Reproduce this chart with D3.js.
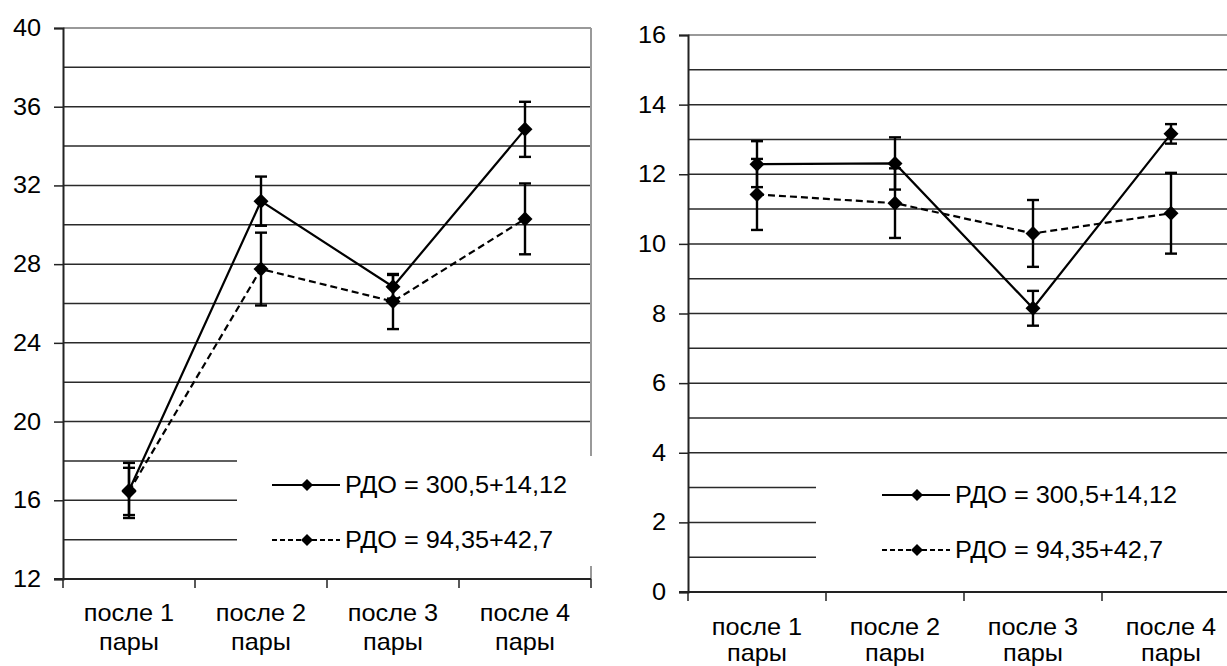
<!DOCTYPE html>
<html lang="ru">
<head>
<meta charset="utf-8">
<title>РДО после пар</title>
<script src="https://cdnjs.cloudflare.com/ajax/libs/d3/7.8.5/d3.min.js"></script>
<style>
  html, body { margin: 0; padding: 0; background: #fff; }
  svg { display: block; font-family: "Liberation Sans", Arial, sans-serif; }
</style>
</head>
<body>
<svg id="chart" width="1227" height="666"></svg>
<script>
// categories (two-line labels)
const categories = ["после 1", "после 2", "после 3", "после 4"];
const categorySub = "пары";
const seriesNames = ["РДО = 300,5+14,12", "РДО = 94,35+42,7"];

// left chart
const leftSolid = [16.5, 31.2, 26.85, 34.85];
const leftSolidErr = [1.4, 1.25, 0.6, 1.4];
const leftDashed = [16.45, 27.75, 26.1, 30.3];
const leftDashedErr = [1.2, 1.85, 1.4, 1.8];
const leftTicks = [12, 16, 20, 24, 28, 32, 36, 40];
const leftGrid = [14, 16, 18, 20, 22, 24, 26, 28, 30, 32, 34, 36, 38];

// right chart
const rightSolid = [12.29, 12.31, 8.15, 13.16];
const rightSolidErr = [0.66, 0.75, 0.5, 0.28];
const rightDashed = [11.42, 11.17, 10.3, 10.88];
const rightDashedErr = [1.02, 1.0, 0.96, 1.16];
const rightTicks = [0, 2, 4, 6, 8, 10, 12, 14, 16];
const rightGrid = [1, 2, 3, 4, 5, 6, 7, 8, 9, 10, 11, 12, 13, 14, 15];

const svg = d3.select("#chart");
const FS = 23, SX = 1.1;   // font size, slight horizontal stretch like the original

function txt(g, x, y, s, anchor) {
  return g.append("text")
    .attr("transform", `translate(${x},${y}) scale(${SX},1)`)
    .attr("text-anchor", anchor || "start")
    .attr("font-size", FS)
    .attr("fill", "#000")
    .text(s);
}

function diamond(g, x, y, r) {
  g.append("path")
    .attr("d", `M${x},${y - r}L${x + r},${y}L${x},${y + r}L${x - r},${y}Z`)
    .attr("fill", "#000");
}

function drawChart(c) {
  const g = svg.append("g");
  const x = d3.scaleBand().domain(categories).range([c.x0, c.x1]);
  const y = d3.scaleLinear().domain(c.domain).range([c.y1, c.y0]);

  // gridlines
  g.selectAll(".grid").data(c.grid).enter().append("line")
    .attr("x1", c.x0).attr("x2", c.x1)
    .attr("y1", d => y(d)).attr("y2", d => y(d))
    .attr("stroke", "#2a2a2a").attr("stroke-width", 1.5);

  // plot border (top / right)
  g.append("line").attr("x1", c.x0).attr("x2", c.x1)
    .attr("y1", c.y0).attr("y2", c.y0)
    .attr("stroke", "#999").attr("stroke-width", 2);
  g.append("line").attr("x1", c.x1).attr("x2", c.x1)
    .attr("y1", c.y0).attr("y2", c.y1)
    .attr("stroke", "#999").attr("stroke-width", 2);

  // legend background hides grid
  g.append("rect")
    .attr("x", c.leg.x).attr("y", c.leg.y)
    .attr("width", c.leg.w).attr("height", c.leg.h)
    .attr("fill", "#fff");

  // y axis
  const ya = g.append("g")
    .attr("transform", `translate(${c.x0},0)`)
    .call(d3.axisLeft(y).tickValues(c.ticks).tickSize(9).tickFormat(d3.format("d")));
  ya.select(".domain").attr("stroke", "#222").attr("stroke-width", 2);
  ya.selectAll(".tick line").attr("stroke", "#222").attr("stroke-width", 1.5);
  ya.selectAll(".tick text").remove();
  c.ticks.forEach(t => txt(g, c.x0 - 22, y(t) + 8, t, "end"));

  // x axis: line + ticks at band edges
  g.append("line").attr("x1", c.x0 - 9).attr("x2", c.x1)
    .attr("y1", c.y1).attr("y2", c.y1)
    .attr("stroke", "#222").attr("stroke-width", 2.2);
  const edges = categories.map(d => x(d)).concat([c.x1]);
  g.selectAll(".xt").data(edges).enter().append("line")
    .attr("x1", d => d).attr("x2", d => d)
    .attr("y1", c.y1).attr("y2", c.y1 + 9)
    .attr("stroke", "#222").attr("stroke-width", 1.5);
  categories.forEach(d => {
    const cx = x(d) + x.bandwidth() / 2;
    txt(g, cx, c.y1 + c.lab1, d, "middle");
    txt(g, cx, c.y1 + c.lab1 + c.lab2, categorySub, "middle");
  });

  // series
  const series = [
    { vals: c.solid, err: c.solidErr, dash: null },
    { vals: c.dashed, err: c.dashedErr, dash: "7,4" }
  ];
  const line = d3.line().x((d, i) => x(categories[i]) + x.bandwidth() / 2).y(d => y(d));
  series.forEach(s => {
    g.append("path").datum(s.vals)
      .attr("d", line)
      .attr("fill", "none").attr("stroke", "#000").attr("stroke-width", 2.2)
      .attr("stroke-dasharray", s.dash);
  });
  series.forEach(s => {
    s.vals.forEach((v, i) => {
      const cx = x(categories[i]) + x.bandwidth() / 2;
      const top = y(v + s.err[i]), bot = y(v - s.err[i]);
      g.append("line").attr("x1", cx).attr("x2", cx).attr("y1", top).attr("y2", bot)
        .attr("stroke", "#000").attr("stroke-width", 2.4);
      [top, bot].forEach(yy => g.append("line")
        .attr("x1", cx - 6).attr("x2", cx + 6).attr("y1", yy).attr("y2", yy)
        .attr("stroke", "#000").attr("stroke-width", 2.4));
      diamond(g, cx, y(v), 7.5);
    });
  });

  // legend
  series.forEach((s, i) => {
    const ly = c.leg.row + i * 55;
    g.append("line").attr("x1", c.leg.sx).attr("x2", c.leg.sx + 68)
      .attr("y1", ly).attr("y2", ly)
      .attr("stroke", "#000").attr("stroke-width", 2.2)
      .attr("stroke-dasharray", s.dash ? "5,3" : null);
    diamond(g, c.leg.sx + 35, ly, 6);
    txt(g, c.leg.sx + 73, ly + 8, seriesNames[i], "start");
  });
}

drawChart({
  x0: 63, x1: 591, y0: 28, y1: 579, domain: [12, 40],
  ticks: leftTicks, grid: leftGrid,
  solid: leftSolid, solidErr: leftSolidErr, dashed: leftDashed, dashedErr: leftDashedErr,
  lab1: 42, lab2: 29,
  leg: { x: 237, y: 456, w: 370, h: 110, row: 485, sx: 272 }
});

drawChart({
  x0: 688, x1: 1240, y0: 35, y1: 592, domain: [0, 16],
  ticks: rightTicks, grid: rightGrid,
  solid: rightSolid, solidErr: rightSolidErr, dashed: rightDashed, dashedErr: rightDashedErr,
  lab1: 43, lab2: 26,
  leg: { x: 816, y: 466, w: 420, h: 124, row: 495, sx: 882 }
});
</script>
</body>
</html>
